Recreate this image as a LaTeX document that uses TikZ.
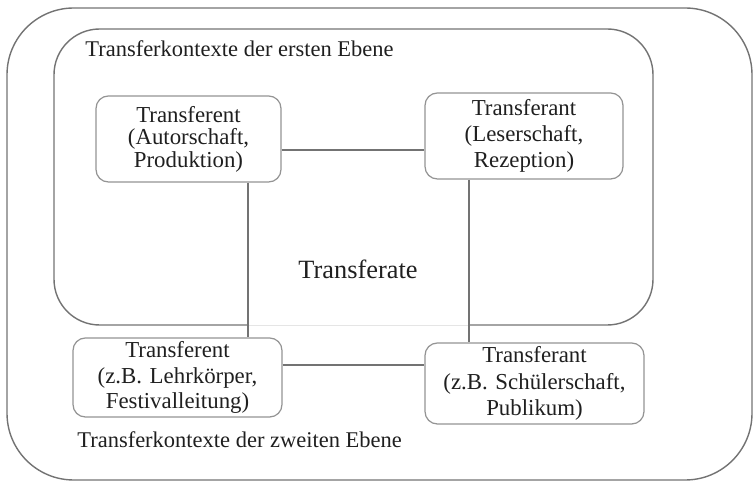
\documentclass[tikz,border=0pt]{standalone}
\usepackage{fontspec}
\setmainfont{Liberation Serif}
\usepackage{tikz}
\usetikzlibrary{positioning,calc}

\tikzset{
    rolebox/.style={draw=black!42, line width=0.7pt, rounded corners=7pt, align=center,
        inner sep=0pt, text=black!88, font=\fontsize{13}{14.6}\selectfont},
    framebox/.style={draw=black!55, line width=0.8pt},
    link/.style={draw=black!55, line width=0.7pt},
    ctxlabel/.style={anchor=west, inner sep=0pt, text=black!88, font=\fontsize{12.8}{14}\selectfont}
}

\begin{document}
\begin{tikzpicture}[x=0.02cm, y=-0.02cm]
    \useasboundingbox (0,0) rectangle (754,482);
    \draw[framebox, rounded corners=38pt] (7,8) rectangle (752,480);
    \draw[framebox, rounded corners=26pt] (54,29) rectangle (653,325);

    \node[ctxlabel] (ctx1) at (85,49) {Transferkontexte der ersten Ebene};
    \node[ctxlabel] (ctx2) at (77,440) {Transferkontexte der zweiten Ebene};

    \node[rolebox, font=\fontsize{13}{12.8}\selectfont, text width=3.5cm, minimum width=3.7cm, minimum height=1.72cm] (tf1) at (188.5,139) {Transferent\\(Autorschaft,\\Produktion)};
    \node[rolebox, text width=3.8cm, minimum width=3.96cm, minimum height=1.72cm] (ta1) at (524,136) {Transferant\\(Leserschaft,\\Rezeption)};
    \node[rolebox, text width=4cm, minimum width=4.18cm, minimum height=1.58cm] (tf2) at (177.5,377.5) {Transferent\\(z.B. Lehrkörper,\\Festivalleitung)};
    \node[rolebox, font=\fontsize{13}{15.2}\selectfont, text width=4.2cm, minimum width=4.38cm, minimum height=1.62cm] (ta2) at (534.5,383.5) {Transferant\\(z.B. Schülerschaft,\\Publikum)};

    \node[text=black!88, font=\fontsize{15}{17}\selectfont] (tfr) at (358,269) {Transferate};

    \coordinate (xl) at (248,0);
    \coordinate (xr) at (469,0);
    \draw[white, line width=1pt] (xl |- 0,325) -- (xr |- 0,325);
    \draw[black!10, line width=0.5pt] (xl |- 0,325) -- (xr |- 0,325);

    \draw[link] ($(tf1.east)+(0,11)$) -- ($(ta1.west)+(0,14)$);
    \draw[link] (tf1.south -| xl) -- (tf2.north -| xl);
    \draw[link] (ta1.south -| xr) -- (ta2.north -| xr);
    \draw[link] ($(tf2.east)+(0,-12.5)$) -- ($(ta2.west)+(0,-18.5)$);
\end{tikzpicture}
\end{document}
